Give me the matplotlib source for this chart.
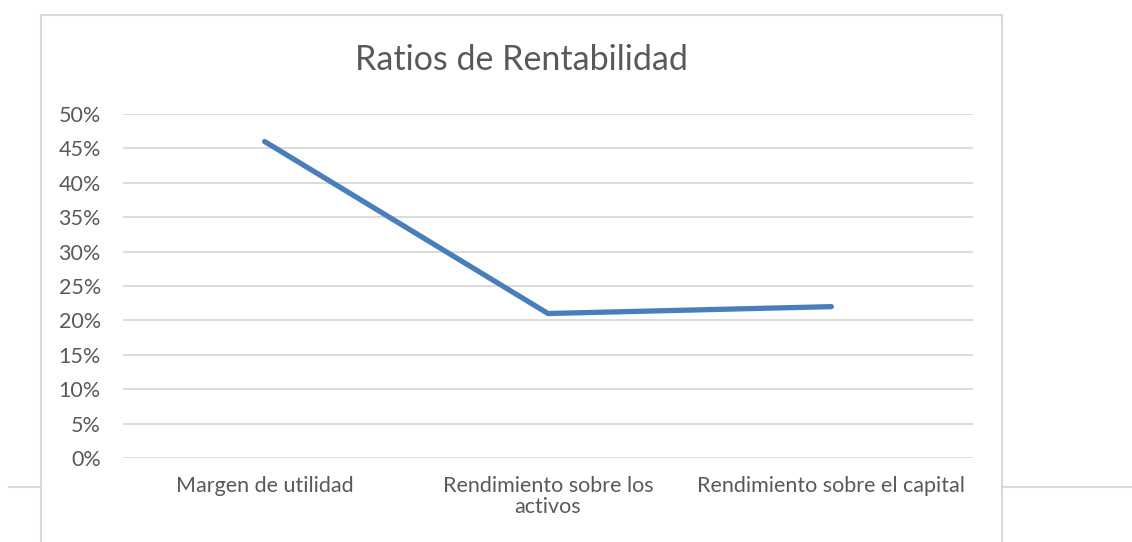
import matplotlib
matplotlib.use("Agg")
import matplotlib.pyplot as plt
from matplotlib.lines import Line2D
from matplotlib.patches import Rectangle
from matplotlib.ticker import FuncFormatter

# data
categorias = ["Margen de utilidad", "Rendimiento sobre los\nactivos", "Rendimiento sobre el capital"]
valores = [0.46, 0.21, 0.22]
y_ticks = [0.0, 0.05, 0.10, 0.15, 0.20, 0.25, 0.30, 0.35, 0.40, 0.45, 0.50]

plt.rcParams['font.family'] = ['Lato', 'DejaVu Sans']
gris = '#595959'
linea = '#d9d9d9'

W, H = 1132, 542
fig = plt.figure(figsize=(W / 100, H / 100), dpi=100)

# outer chart frame and page line
fig.patches.append(Rectangle((41 / W, -0.1), (1002 - 41) / W, 1.1 - 15 / H,
                             transform=fig.transFigure, fill=False,
                             edgecolor=linea, linewidth=1.5))
fig.lines.append(Line2D([9 / W, 41 / W], [1 - 487 / H] * 2, transform=fig.transFigure,
                        color=linea, linewidth=1.5))
fig.lines.append(Line2D([1003 / W, 1.0], [1 - 487 / H] * 2, transform=fig.transFigure,
                        color=linea, linewidth=1.5))

ax = fig.add_axes([123 / W, 1 - 458 / H, 850 / W, 344 / H])
x = range(len(categorias))
ax.plot(x, valores, color='#4a7ebb', linewidth=3.8, solid_capstyle='round',
        solid_joinstyle='round', zorder=3)

ax.set_xlim(-0.5, len(categorias) - 0.5)
ax.set_ylim(0, 0.5)
ax.set_yticks(y_ticks)
ax.yaxis.set_major_formatter(FuncFormatter(lambda v, p: f"{v * 100:.0f}%"))
ax.set_xticks(list(x))
ax.set_xticklabels(categorias, linespacing=1.05)
ax.grid(axis='y', color=linea, linewidth=1.3)
ax.set_axisbelow(True)
for s in ax.spines.values():
    s.set_visible(False)
ax.tick_params(axis='both', length=0, colors=gris, labelsize=15.5)
ax.tick_params(axis='y', pad=16)
ax.tick_params(axis='x', pad=13)

fig.text(521 / W, 1 - 60 / H, "Ratios de Rentabilidad", ha='center', va='center',
         fontsize=24.5, color=gris)

plt.savefig("out.png", dpi=100)
